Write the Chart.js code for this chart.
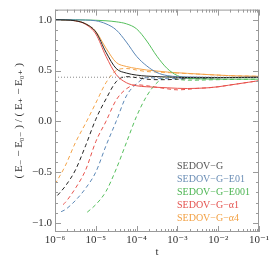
<!DOCTYPE html>
<html>
<head>
<meta charset="utf-8">
<script src="https://cdn.jsdelivr.net/npm/chart.js"></script>
<style>
  html, body { margin: 0; padding: 0; background: #fff; }
  #wrap { width: 275px; height: 259px; }
</style>
</head>
<body>
<div id="wrap"><canvas id="energy"></canvas></div>
<script>
// log10(t) sample grid shared by all curves
const logT = [-6, -5.75, -5.5, -5.25, -5, -4.75, -4.5, -4.25, -4, -3.75, -3.5,
              -3.25, -3, -2.75, -2.5, -2.25, -2, -1.75, -1.5, -1.25, -1];

const names = ['SEDOV\u2212G', 'SEDOV\u2212G\u2212E01', 'SEDOV\u2212G\u2212E001',
               'SEDOV\u2212G\u2212\u03b11', 'SEDOV\u2212G\u2212\u03b14'];
const colors = ['#222222', '#5b87b6', '#55bf5c', '#e8524c', '#f4a44a'];
const legendColors = ['#555555', '#6a8db5', '#4cb552', '#e4524e', '#f2a043'];

// solid: ( E- ... ) top branch
const blackSolid  = [1.0, 0.998, 0.99, 0.96, 0.88, 0.68, 0.52, 0.475, 0.455, 0.445, 0.44, 0.436, 0.433, 0.431, 0.43, 0.43, 0.43, 0.431, 0.432, 0.433, 0.434];
const blueSolid   = [1.0, 1.0, 0.999, 0.997, 0.99, 0.96, 0.9, 0.78, 0.64, 0.545, 0.48, 0.45, 0.44, 0.437, 0.435, 0.433, 0.432, 0.432, 0.432, 0.433, 0.433];
const greenSolid  = [1.0, 1.0, 1.0, 0.998, 0.995, 0.99, 0.98, 0.96, 0.91, 0.79, 0.64, 0.52, 0.45, 0.425, 0.418, 0.416, 0.415, 0.415, 0.415, 0.415, 0.415];
const redSolid    = [1.0, 0.998, 0.99, 0.955, 0.86, 0.64, 0.46, 0.38, 0.35, 0.34, 0.335, 0.33, 0.325, 0.323, 0.325, 0.33, 0.34, 0.355, 0.37, 0.385, 0.40];
const orangeSolid = [1.0, 0.998, 0.99, 0.96, 0.885, 0.72, 0.58, 0.54, 0.52, 0.505, 0.495, 0.485, 0.478, 0.472, 0.466, 0.46, 0.455, 0.45, 0.447, 0.445, 0.443];

// dashed: rising branch
const blackDashed  = [null, -0.64, -0.48, -0.24, 0.02, 0.22, 0.39, 0.44, 0.43, 0.415, 0.41, 0.41, 0.415, 0.42, 0.42, 0.425, 0.428, 0.43, 0.43, 0.432, 0.433];
const blueDashed   = [null, -0.87, -0.78, -0.66, -0.50, -0.24, 0.0, 0.25, 0.37, 0.43, 0.425, 0.42, 0.42, 0.422, 0.425, 0.428, 0.43, 0.43, 0.431, 0.432, 0.433];
const greenDashed  = [null, null, null, null, -0.82, -0.69, -0.47, -0.21, 0.05, 0.25, 0.38, 0.44, 0.415, 0.405, 0.405, 0.408, 0.41, 0.412, 0.413, 0.414, 0.415];
const redDashed    = [null, -0.80, -0.66, -0.48, -0.20, 0.0, 0.21, 0.32, 0.36, 0.35, 0.335, 0.32, 0.31, 0.315, 0.325, 0.33, 0.34, 0.355, 0.37, 0.385, 0.40];
const orangeDashed = [null, -0.44, -0.21, -0.02, 0.18, 0.38, 0.50, 0.52, 0.505, 0.49, 0.485, 0.48, 0.475, 0.47, 0.465, 0.46, 0.455, 0.45, 0.447, 0.445, 0.443];

// where each dashed curve begins (black, blue, green, red, orange)
const dashStartLogT = [-5.94, -5.85, -5.21, -5.8, -6.0];
const dashStartVal  = [-0.73, -0.89, -0.895, -0.82, -0.62];

const refLevel = 0.434;   // dotted horizontal line

const solids = [blackSolid, blueSolid, greenSolid, redSolid, orangeSolid];
const dashes = [blackDashed, blueDashed, greenDashed, redDashed, orangeDashed];

function toPoints(vals, startT, startV) {
  const pts = [];
  if (startT !== undefined) pts.push({ x: Math.pow(10, startT), y: startV });
  vals.forEach((v, i) => {
    if (v === null) return;
    if (startT !== undefined && logT[i] <= startT) return;
    pts.push({ x: Math.pow(10, logT[i]), y: v });
  });
  return pts;
}

const datasets = [{
  data: [{ x: 1e-6, y: refLevel }, { x: 1e-1, y: refLevel }],
  borderColor: '#8a8a8a',
  borderWidth: 1,
  borderDash: [1, 2],
  pointRadius: 0
}];
solids.forEach((s, i) => {
  datasets.push({
    label: names[i],
    data: toPoints(s),
    borderColor: colors[i],
    borderWidth: 1,
    pointRadius: 0,
    cubicInterpolationMode: 'monotone'
  });
});
dashes.forEach((d, i) => {
  datasets.push({
    data: toPoints(d, dashStartLogT[i], dashStartVal[i]),
    borderColor: colors[i],
    borderWidth: 1,
    borderDash: [4, 3],
    pointRadius: 0,
    cubicInterpolationMode: 'monotone'
  });
});

const sup = { '-': '\u207b', '0': '\u2070', '1': '\u00b9', '2': '\u00b2', '3': '\u00b3',
              '4': '\u2074', '5': '\u2075', '6': '\u2076', '7': '\u2077', '8': '\u2078', '9': '\u2079' };

const serif = "'Liberation Serif', 'DejaVu Serif', serif";

// frame with inward ticks on all four sides, plus text legend
const frameTicks = {
  id: 'frameTicks',
  afterDraw(chart) {
    const { ctx, chartArea: a, scales: { x, y } } = chart;
    ctx.save();
    ctx.strokeStyle = '#9a9a9a';
    ctx.lineWidth = 1;
    ctx.strokeRect(a.left + 0.5, a.top + 0.5, a.right - a.left - 1, a.bottom - a.top - 1);
    ctx.beginPath();
    for (let e = -6; e <= -1; e++) {
      for (let m = 1; m <= 9; m++) {
        const v = m * Math.pow(10, e);
        if (v > 0.10001) break;
        const px = Math.round(x.getPixelForValue(v)) + 0.5;
        const len = m === 1 ? 6 : 3;
        ctx.moveTo(px, a.bottom); ctx.lineTo(px, a.bottom - len);
        ctx.moveTo(px, a.top); ctx.lineTo(px, a.top + len);
      }
    }
    for (let i = -10; i <= 11; i++) {
      const py = Math.round(y.getPixelForValue(i / 10)) + 0.5;
      const len = i % 5 === 0 ? 6 : 3;
      ctx.moveTo(a.left, py); ctx.lineTo(a.left + len, py);
      ctx.moveTo(a.right, py); ctx.lineTo(a.right - len, py);
    }
    ctx.stroke();

    ctx.font = '10px ' + serif;
    ctx.textAlign = 'left';
    ctx.textBaseline = 'middle';
    names.forEach((n, i) => {
      ctx.fillStyle = legendColors[i];
      ctx.fillText(n, 177, 166 + i * 13);
    });
    ctx.restore();
  }
};

new Chart('energy', {
  type: 'line',
  data: { datasets: datasets },
  options: {
    responsive: true,
    maintainAspectRatio: false,
    animation: false,
    events: [],
    layout: { padding: { top: 9, right: 16, left: 0, bottom: 0 } },
    plugins: { legend: { display: false }, tooltip: { enabled: false } },
    scales: {
      x: {
        type: 'logarithmic',
        min: 1e-6,
        max: 1e-1,
        grid: { display: false, drawTicks: false },
        border: { display: false },
        afterBuildTicks: s => {
          s.ticks = [-6, -5, -4, -3, -2, -1].map(e => ({ value: Math.pow(10, e) }));
        },
        afterFit: s => { s.height = 27; },
        ticks: {
          autoSkip: false,
          maxRotation: 0,
          padding: 2,
          color: '#333',
          font: { family: serif, size: 11 },
          callback: v => '10' + String(Math.round(Math.log10(v))).split('').map(c => sup[c]).join('')
        },
        title: {
          display: true,
          text: 't',
          color: '#333',
          padding: { top: 0, bottom: 0 },
          font: { family: serif, size: 11 }
        }
      },
      y: {
        min: -1.09,
        max: 1.1,
        grid: { display: false, drawTicks: false },
        border: { display: false },
        afterBuildTicks: s => {
          s.ticks = [-1, -0.5, 0, 0.5, 1].map(v => ({ value: v }));
        },
        afterFit: s => { s.width = 55; },
        ticks: {
          padding: 3,
          color: '#333',
          font: { family: serif, size: 11 },
          callback: v => (v < 0 ? '\u2212' : '') + Math.abs(v).toFixed(1)
        },
        title: {
          display: true,
          text: '( E\u208b \u2212 E\u2080\u208b ) / ( E\u208a \u2212 E\u2080\u208a )',
          color: '#333',
          padding: { top: 13, bottom: 0 },
          font: { family: serif, size: 11 }
        }
      }
    }
  },
  plugins: [frameTicks]
});
</script>
</body>
</html>
